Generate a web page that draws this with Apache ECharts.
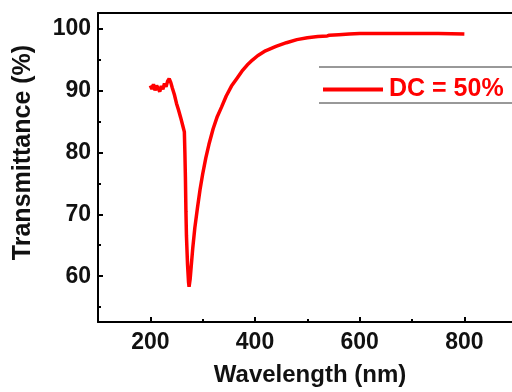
<!DOCTYPE html>
<html>
<head>
<meta charset="utf-8">
<script src="https://cdn.jsdelivr.net/npm/echarts@6/dist/echarts.min.js"></script>
<style>
  html, body { margin: 0; padding: 0; background: #fff; }
  #chart { width: 512px; height: 392px; }
</style>
</head>
<body>
<div id="chart"></div>
<script>
// wavelength (nm) and transmittance (%)
const wavelength = [
  200, 203, 206, 209, 212, 215, 218, 221, 224, 227, 230, 233, 236, 239, 242,
  246, 250, 254, 258, 262, 265, 266, 267, 268, 269, 271, 273, 274, 276, 278,
  281, 285, 290, 295, 300, 306, 312, 320, 328, 336, 345, 355, 365, 375, 385,
  395, 405, 420, 440, 460, 480, 500, 520, 538, 540, 542, 560, 580, 600, 650,
  700, 750, 800
];
const transmittance = [
  90.8, 90.2, 91.0, 90.0, 90.8, 90.3, 89.8, 90.7, 90.2, 91.1, 90.6, 91.5, 91.9, 91.3, 90.4,
  89.3, 87.9, 86.8, 85.6, 84.3, 83.3, 80.0, 76.0, 70.5, 66.5, 62.0, 59.0, 58.3, 59.5, 61.5,
  64.5, 67.8, 71.0, 74.0, 76.5, 79.1, 81.3, 83.8, 85.8, 87.3, 89.1, 90.7, 91.9, 93.1, 94.1,
  94.9, 95.6, 96.4, 97.1, 97.7, 98.2, 98.5, 98.7, 98.8, 98.6, 98.9, 99.0, 99.1, 99.2, 99.2,
  99.2, 99.2, 99.1
];
const xMajorTicks = [200, 400, 600, 800];
const xMinorTicks = [300, 500, 700];
const yMajorTicks = [60, 70, 80, 90, 100];
const yMinorTicks = [55, 65, 75, 85, 95];
const seriesName = "DC = 50%";

const RED = "#ff0000";
const FONT = "'Liberation Sans', Arial, sans-serif";
const X_MIN = 100, X_MAX = 891;
const Y_MIN = 52.6, Y_MAX = 102.5;

const chart = echarts.init(document.getElementById("chart"));

const axisLine = { show: true, lineStyle: { color: "#000", width: 2 } };
const hidden = { show: false };
const labelStyle = { fontSize: 23, fontWeight: "bold", fontFamily: FONT, color: "#111" };

chart.setOption({
  animation: false,
  grid: { left: 98, right: 0, top: 13, bottom: 65 },
  legend: {
    data: [seriesName],
    left: 318,
    top: 72,
    icon: "rect",
    itemWidth: 60,
    itemHeight: 4,
    itemGap: 6,
    textStyle: { color: RED, fontSize: 25, fontWeight: "bold", fontFamily: FONT, padding: [0, 0, 0, 1] }
  },
  graphic: [
    { type: "line", shape: { x1: 319, y1: 67, x2: 512, y2: 67 }, style: { stroke: "#333", lineWidth: 1 } },
    { type: "line", shape: { x1: 319, y1: 103, x2: 512, y2: 103 }, style: { stroke: "#333", lineWidth: 1 } }
  ],
  xAxis: [
    {
      type: "value", position: "bottom", min: X_MIN, max: X_MAX,
      name: "Wavelength (nm)", nameLocation: "middle", nameGap: 41,
      nameTextStyle: { fontSize: 24, fontWeight: "bold", fontFamily: FONT, color: "#111", padding: [0, 0, 0, 10] },
      axisLine: axisLine,
      axisTick: { show: true, inside: true, length: 5, customValues: xMajorTicks, lineStyle: { color: "#000", width: 2 } },
      axisLabel: Object.assign({ customValues: xMajorTicks, margin: 9 }, labelStyle),
      splitLine: hidden
    },
    {
      type: "value", position: "bottom", min: X_MIN, max: X_MAX,
      axisLine: hidden,
      axisTick: { show: true, inside: true, length: 3, customValues: xMinorTicks, lineStyle: { color: "#000", width: 2 } },
      axisLabel: hidden,
      splitLine: hidden
    },
    {
      type: "value", position: "top", min: X_MIN, max: X_MAX,
      axisLine: axisLine, axisTick: hidden, axisLabel: hidden, splitLine: hidden
    }
  ],
  yAxis: [
    {
      type: "value", position: "left", min: Y_MIN, max: Y_MAX,
      name: "Transmittance (%)", nameLocation: "middle", nameGap: 62, nameRotate: 90,
      nameTextStyle: { fontSize: 25, fontWeight: "bold", fontFamily: FONT, color: "#111", padding: [0, 0, 0, 30] },
      axisLine: axisLine,
      axisTick: { show: true, inside: true, length: 5, customValues: yMajorTicks, lineStyle: { color: "#000", width: 2 } },
      axisLabel: Object.assign({ customValues: yMajorTicks, margin: 7 }, labelStyle),
      splitLine: hidden
    },
    {
      type: "value", position: "left", min: Y_MIN, max: Y_MAX,
      axisLine: hidden,
      axisTick: { show: true, inside: true, length: 3, customValues: yMinorTicks, lineStyle: { color: "#000", width: 2 } },
      axisLabel: hidden,
      splitLine: hidden
    }
  ],
  series: [
    {
      type: "line",
      name: seriesName,
      xAxisIndex: 0,
      yAxisIndex: 0,
      data: wavelength.map((w, i) => [w, transmittance[i]]),
      symbol: "none",
      lineStyle: { color: RED, width: 3.5 },
      itemStyle: { color: RED }
    }
  ]
});
</script>
</body>
</html>
